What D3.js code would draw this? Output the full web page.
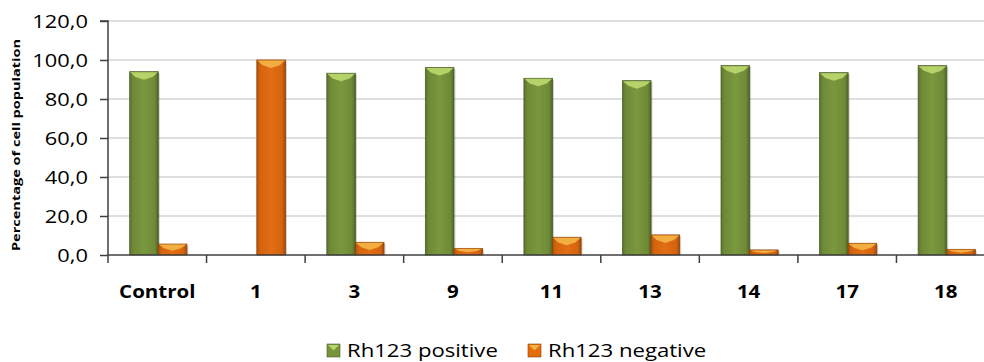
<!DOCTYPE html>
<html><head><meta charset="utf-8">
<script src="https://cdn.jsdelivr.net/npm/d3@7"></script>
<style>
body{margin:0;background:#fff;}
svg{display:block;}
text{font-family:"Open Sans",sans-serif;fill:#000;}
</style></head>
<body>
<svg id="chart" width="984" height="362"></svg>
<script>
const categories = ["Control","1","3","9","11","13","14","17","18"];
const rh123Positive = [94.0, 0, 93.2, 96.1, 90.6, 89.4, 97.1, 93.5, 97.1];
const rh123Negative = [5.6, 100.0, 6.5, 3.4, 9.1, 10.3, 2.6, 6.0, 2.9];
const seriesNames = ["Rh123 positive","Rh123 negative"];
const yTicks = [0,20,40,60,80,100,120];

const svg = d3.select("#chart");
const M = {left:108, right:-11, top:21, bottom:107};
const W = 984, H = 362;
const x0 = d3.scaleBand().domain(categories).range([M.left, W - M.right]).paddingInner(0).paddingOuter(0);
const y = d3.scaleLinear().domain([0,120]).range([H - M.bottom, M.top]);
const bw = x0.bandwidth()*0.29;
const x1 = d3.scaleBand().domain(seriesNames).range([0, bw*2]);

const defs = svg.append("defs");
function grad(id, stops){
  const g = defs.append("linearGradient").attr("id",id).attr("x1","0").attr("x2","1").attr("y1","0").attr("y2","0");
  stops.forEach(s=>g.append("stop").attr("offset",s[0]).attr("stop-color",s[1]));
}
grad("gGreen",[[0,"#5b7330"],[0.12,"#6f8a37"],[0.5,"#7a983e"],[0.88,"#6f8a37"],[1,"#4e6428"]]);
grad("gOrange",[[0,"#b3520a"],[0.12,"#d5640f"],[0.5,"#e26d14"],[0.88,"#d5640f"],[1,"#a24a08"]]);
const colors = {"Rh123 positive":{fill:"url(#gGreen)", top:"#b8d66c", edge:"#4a5e25", sw:"#77933c"},
                "Rh123 negative":{fill:"url(#gOrange)", top:"#f3b243", edge:"#8f4207", sw:"#e46c0a"}};

// gridlines
svg.append("g").selectAll("line").data(yTicks.filter(d=>d>0)).join("line")
  .attr("x1",M.left).attr("x2",W).attr("y1",d=>y(d)).attr("y2",d=>y(d))
  .attr("stroke","#d4d4d4").attr("stroke-width",1.5);

// bars
const data = [];
categories.forEach((c,i)=>{
  data.push({cat:c, s:seriesNames[0], v:rh123Positive[i]});
  data.push({cat:c, s:seriesNames[1], v:rh123Negative[i]});
});
const groupOffset = (x0.bandwidth() - bw*2)/2 + 1;
const bars = svg.append("g").selectAll("g").data(data.filter(d=>d.v>0)).join("g");
bars.each(function(d){
  const g = d3.select(this);
  const bx = x0(d.cat) + groupOffset + x1(d.s);
  const w = x1.bandwidth();
  const top = y(d.v), bot = y(0);
  const h = bot - top;
  g.append("rect").attr("x",bx+1.5).attr("y",top+1.5).attr("width",w).attr("height",h-1.5)
    .attr("fill","#000").attr("opacity",0.18);
  g.append("rect").attr("x",bx).attr("y",top).attr("width",w).attr("height",h)
    .attr("fill",colors[d.s].fill).attr("stroke",colors[d.s].edge).attr("stroke-width",0.8);
  const bh = Math.min(8, h*0.6);
  const inset = Math.min(6, w*0.2);
  g.append("path").attr("d",`M${bx+0.5},${top+0.5} L${bx+w-0.5},${top+0.5} L${bx+w-inset},${top+bh*0.65} L${bx+w/2},${top+bh} L${bx+inset},${top+bh*0.65} Z`)
    .attr("fill",colors[d.s].top).attr("opacity",0.95);
});

// y axis
const yAxis = d3.axisLeft(y).tickValues(yTicks).tickSize(8).tickPadding(12)
  .tickFormat(d=>d3.format(".1f")(d).replace(".",","));
const gy = svg.append("g").attr("transform",`translate(${M.left},0)`).call(yAxis);
gy.select(".domain").attr("stroke","#404040").attr("stroke-width",1.5).attr("d",`M-8,${y(120)}H0V${y(0)}`);
gy.selectAll(".tick line").attr("stroke","#404040").attr("stroke-width",1.5);
gy.selectAll(".tick text").attr("font-size",19).attr("font-family","Open Sans, sans-serif").attr("fill","#000")
  .attr("x",0).attr("transform","translate(-20,0) scale(1.15,1)");

// x axis
const xAxis = d3.axisBottom(x0).tickSize(0).tickPadding(30);
const gx = svg.append("g").attr("transform",`translate(0,${y(0)})`).call(xAxis);
gx.select(".domain").attr("stroke","#404040").attr("stroke-width",1.5).attr("d",`M${M.left},0H${W}`);
gx.selectAll(".tick text").attr("font-size",18).attr("font-weight","bold").attr("font-family","Open Sans, sans-serif").attr("fill","#000")
  .attr("transform","scale(1.14,1)");
// category separators
svg.append("g").selectAll("line").data(categories).join("line")
  .attr("x1",d=>x0(d)).attr("x2",d=>x0(d)).attr("y1",y(0)).attr("y2",y(0)+8)
  .attr("stroke","#404040").attr("stroke-width",1.5);

// y title
svg.append("text").attr("transform",`translate(19.5,145) rotate(-90)`)
  .attr("text-anchor","middle").attr("font-size",10.5).attr("font-weight","bold")
  .attr("textLength",212).attr("lengthAdjust","spacingAndGlyphs")
  .text("Percentage of cell population");

// legend
const legX = [327, 528];
const leg = svg.append("g").selectAll("g").data(seriesNames).join("g")
  .attr("transform",(d,i)=>`translate(${legX[i]},344)`);
leg.append("rect").attr("width",13).attr("height",13).attr("fill",d=>colors[d].sw).attr("stroke",d=>colors[d].edge).attr("stroke-width",0.6);
leg.append("path").attr("d","M1,1 L12,1 L6.5,6.5 Z").attr("fill",d=>colors[d].top);
leg.append("text").attr("transform","translate(20,13) scale(1.23,1)").attr("font-size",18).text(d=>d);
</script>
</body></html>
